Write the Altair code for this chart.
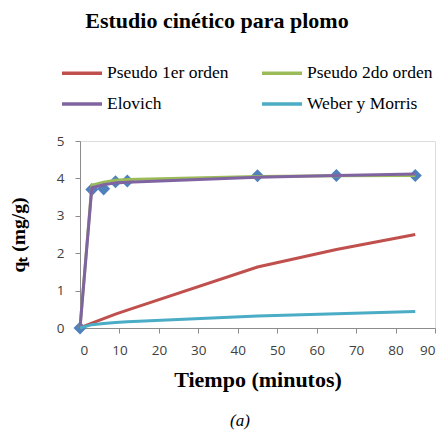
import altair as alt
import pandas as pd

# Data
t_exp = [0, 3, 6, 9, 12, 45, 65, 85]
q_exp = [0, 3.70, 3.72, 3.91, 3.93, 4.07, 4.08, 4.08]

t_model = [0, 3, 6, 9, 12, 45, 65, 85]
pseudo1 = [0, 0.13, 0.25, 0.37, 0.48, 1.63, 2.10, 2.50]
pseudo2 = [0, 3.82, 3.90, 3.95, 3.97, 4.05, 4.07, 4.08]
elovich = [0, 3.75, 3.83, 3.88, 3.90, 4.03, 4.08, 4.12]
weber = [0, 0.09, 0.12, 0.15, 0.17, 0.32, 0.38, 0.44]

series_names = ["Pseudo 1er orden", "Pseudo 2do orden", "Elovich", "Weber y Morris"]
series_colors = ["#C0504D", "#9BBB59", "#8064A2", "#4BACC6"]
x_ticks = [0, 10, 20, 30, 40, 50, 60, 70, 80, 90]
y_ticks = [0, 1, 2, 3, 4, 5]

rows = []
for name, vals in zip(series_names, [pseudo1, pseudo2, elovich, weber]):
    for t, v in zip(t_model, vals):
        rows.append({"t": t, "q": v, "serie": name})
lines_df = pd.DataFrame(rows)
exp_df = pd.DataFrame({"t": t_exp, "q": q_exp})

W, H = 355, 187

xs = alt.Scale(domain=[0, 90], nice=False, zero=True)
ys = alt.Scale(domain=[0, 5], nice=False)

axis_common = dict(
    labelFont="Open Sans", labelFontSize=13.5, labelColor="#404040",
    domainColor="#8C8C8C", tickColor="#8C8C8C", tickSize=5, grid=False,
    labelOverlap=False,
    titleFont="Liberation Serif", titleFontWeight="bold", titleColor="black",
)
x_axis = alt.Axis(values=x_ticks, title="Tiempo (minutos)", titleFontSize=22,
                  titlePadding=13, labelPadding=10, **axis_common)
y_axis = alt.Axis(values=y_ticks, title="qₜ (mg/g)", titleFontSize=19.5,
                  titlePadding=28, labelPadding=11, **axis_common)

points = alt.Chart(exp_df).mark_point(
    shape="diamond", filled=True, size=170, color="#4F81BD", opacity=1
).encode(
    x=alt.X("t:Q", scale=xs, axis=x_axis),
    y=alt.Y("q:Q", scale=ys, axis=y_axis),
)

lines = alt.Chart(lines_df).mark_line(strokeWidth=3).encode(
    x=alt.X("t:Q", scale=xs, axis=x_axis),
    y=alt.Y("q:Q", scale=ys, axis=y_axis),
    color=alt.Color("serie:N", sort=series_names,
                    scale=alt.Scale(domain=series_names, range=series_colors),
                    legend=alt.Legend(
                        title=None, orient="none", legendX=-20, legendY=-90,
                        direction="horizontal", gridAlign="each",
                        columns=2, columnPadding=26, rowPadding=-3,
                        symbolType="stroke", symbolSize=1600, symbolStrokeWidth=3.5,
                        labelFont="Liberation Serif", labelFontSize=17.5,
                        labelColor="black", labelOffset=3, labelLimit=300,
                    )),
    order=alt.Order("t:Q"),
)

title_txt = alt.Chart(pd.DataFrame({"c": ["Estudio cinético para plomo"]})).mark_text(
    font="Liberation Serif", fontWeight="bold", fontSize=22, color="black",
    align="center", baseline="alphabetic"
).encode(text="c:N", x=alt.value(137), y=alt.value(-113))

caption = alt.Chart(pd.DataFrame({"c": ["(a)"]})).mark_text(
    font="Liberation Serif", fontStyle="italic", fontSize=17, color="black",
    align="center", baseline="middle"
).encode(text="c:N", x=alt.value(160), y=alt.value(280))

chart = alt.layer(points, lines, title_txt, caption).properties(
    width=W, height=H,
    autosize=alt.AutoSizeParams(type="none"),
    padding={"left": 72, "top": 133, "right": 2, "bottom": 102},
).configure_view(stroke="#8C8C8C", strokeWidth=1).configure(background="white")

chart.save("out.html", embed_options={"renderer": "svg", "actions": False})
